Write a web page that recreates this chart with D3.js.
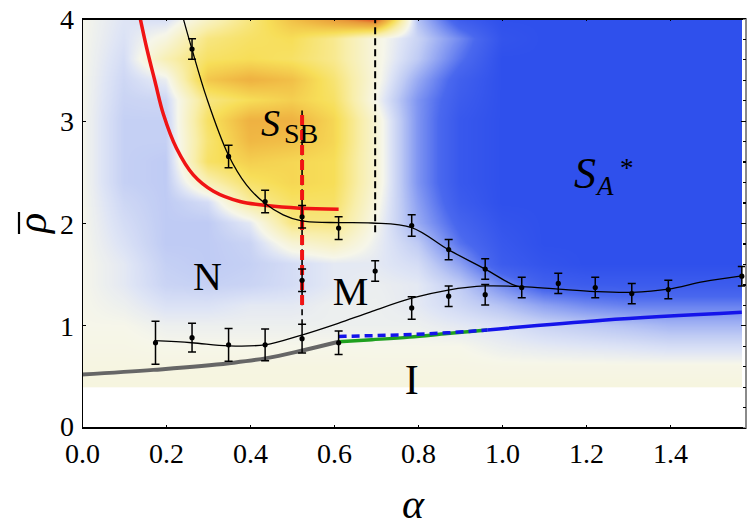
<!DOCTYPE html>
<html>
<head>
<meta charset="utf-8">
<script src="https://cdn.jsdelivr.net/npm/d3@7"></script>
<style>
  body { margin: 0; background: #fff; }
  text { font-family: "Liberation Serif", "Times New Roman", serif; }
  .axis path, .axis line { shape-rendering: crispEdges; }
</style>
</head>
<body>
<div id="phase-diagram"></div>
<script>
"use strict";

const width = 747,
      height = 529;

// ---- data ----

const alphaTicks = [0, 0.2, 0.4, 0.6, 0.8, 1.0, 1.2, 1.4];
const rhoTicks = [0, 1, 2, 3, 4];
const rhoMinorTicks = [0.2, 0.4, 0.6, 0.8, 1.2, 1.4, 1.6, 1.8, 2.2, 2.4, 2.6, 2.8, 3.2, 3.4, 3.6, 3.8];

// density map behind the diagram (negative = blue, positive = yellow/red)
const gridAlpha = [0, 0.1, 0.2, 0.3, 0.4, 0.5, 0.6, 0.7, 0.8, 0.9, 1.0, 1.1, 1.2, 1.3, 1.4, 1.5, 1.6];
const gridRho = [4.0, 3.8, 3.6, 3.4, 3.2, 3.0, 2.8, 2.6, 2.4, 2.2, 2.0, 1.8, 1.6, 1.4, 1.2, 1.0, 0.8, 0.6, 0.4];
const gridValues = [
  [0.00,-0.10,-0.15, 0.15, 0.45, 0.80, 1.10, 1.45,-0.30,-0.85,-1.00,-1.00,-1.00,-1.00,-1.00,-1.00,-1.00],
  [0.00,-0.12, 0.05, 0.45, 0.55, 0.60, 0.40, 0.05,-0.20,-0.55,-0.95,-1.00,-1.00,-1.00,-1.00,-1.00,-1.00],
  [0.00,-0.15, 0.25, 0.55, 0.60, 0.55, 0.40, 0.05,-0.25,-0.65,-1.00,-1.00,-1.00,-1.00,-1.00,-1.00,-1.00],
  [0.00,-0.18,-0.05, 0.75, 0.90, 0.80, 0.50, 0.05,-0.40,-0.80,-1.00,-1.00,-1.00,-1.00,-1.00,-1.00,-1.00],
  [0.00,-0.20,-0.18, 0.45, 0.60, 0.70, 0.55, 0.00,-0.50,-0.85,-1.00,-1.00,-1.00,-1.00,-1.00,-1.00,-1.00],
  [0.00,-0.22,-0.22, 0.55, 0.90, 0.90, 0.65, 0.10,-0.50,-0.90,-1.00,-1.00,-1.00,-1.00,-1.00,-1.00,-1.00],
  [0.00,-0.22,-0.22, 0.50, 0.85, 0.80, 0.65, 0.10,-0.50,-0.90,-1.00,-1.00,-1.00,-1.00,-1.00,-1.00,-1.00],
  [0.00,-0.22,-0.25, 0.55, 0.70, 0.65, 0.60, 0.10,-0.50,-0.90,-1.00,-1.00,-1.00,-1.00,-1.00,-1.00,-1.00],
  [0.00,-0.22,-0.25, 0.25, 0.55, 0.65, 0.60, 0.10,-0.50,-0.90,-1.00,-1.00,-1.00,-1.00,-1.00,-1.00,-1.00],
  [0.00,-0.18,-0.25,-0.15, 0.35, 0.55, 0.55, 0.05,-0.45,-0.85,-1.00,-1.00,-1.00,-1.00,-1.00,-1.00,-1.00],
  [0.00,-0.15,-0.25,-0.25,-0.08, 0.45, 0.45, 0.00,-0.40,-0.75,-0.95,-1.00,-1.00,-1.00,-1.00,-1.00,-1.00],
  [0.00,-0.12,-0.25,-0.25,-0.20, 0.10, 0.20,-0.05,-0.25,-0.65,-0.90,-1.00,-1.00,-1.00,-1.00,-1.00,-1.00],
  [0.00,-0.08,-0.22,-0.25,-0.22,-0.15,-0.08,-0.08,-0.15,-0.45,-0.85,-0.95,-1.00,-1.00,-1.00,-1.00,-1.00],
  [0.00,-0.08,-0.20,-0.22,-0.20,-0.15,-0.08,-0.05,-0.08,-0.25,-0.55,-0.80,-0.85,-0.85,-0.85,-0.85,-0.85],
  [0.00,-0.04,-0.12,-0.12,-0.08,-0.08,-0.04,-0.04,-0.08,-0.18,-0.30,-0.45,-0.55,-0.60,-0.60,-0.60,-0.60],
  [0.00, 0.00,-0.04,-0.04,-0.04,-0.04,-0.04,-0.04,-0.04,-0.08,-0.12,-0.20,-0.25,-0.30,-0.35,-0.35,-0.35],
  [0.02, 0.02, 0.00, 0.00, 0.00, 0.00, 0.00, 0.00, 0.00, 0.00,-0.05,-0.08,-0.10,-0.12,-0.15,-0.15,-0.15],
  [0.04, 0.04, 0.04, 0.04, 0.04, 0.04, 0.04, 0.03, 0.03, 0.03, 0.02, 0.02, 0.02, 0.02, 0.02, 0.02, 0.02],
  [0.05, 0.05, 0.05, 0.05, 0.05, 0.05, 0.05, 0.05, 0.05, 0.05, 0.05, 0.05, 0.05, 0.05, 0.05, 0.05, 0.05]
];
const mapAlphaEnd = 1.571;

// measured points [alpha, rho, error]
const upperPoints = [
  [0.262, 3.70, 0.10], [0.349, 2.65, 0.11], [0.436, 2.21, 0.11], [0.524, 2.06, 0.11],
  [0.611, 1.95, 0.11], [0.785, 1.975, 0.105], [0.873, 1.74, 0.10], [0.960, 1.55, 0.10]
];
const lowerPoints = [
  [0.175, 0.83, 0.21], [0.262, 0.88, 0.14], [0.349, 0.81, 0.16], [0.436, 0.81, 0.155],
  [0.524, 0.87, 0.14], [0.611, 0.83, 0.115], [0.785, 1.17, 0.11], [0.873, 1.285, 0.10],
  [0.960, 1.30, 0.10], [1.047, 1.37, 0.10], [1.134, 1.41, 0.10], [1.222, 1.37, 0.10],
  [1.309, 1.31, 0.10], [1.396, 1.35, 0.09], [1.571, 1.48, 0.095]
];
const middlePoints = [[0.524, 1.44, 0.11], [0.698, 1.53, 0.10]];

// fitted boundaries
const upperFit = [
  [0.241, 4.0], [0.261, 3.71], [0.297, 3.22], [0.348, 2.67], [0.392, 2.37], [0.436, 2.19],
  [0.479, 2.08], [0.523, 2.02], [0.59, 2.005], [0.69, 2.0], [0.785, 1.955], [0.872, 1.74],
  [0.96, 1.55], [1.027, 1.395], [1.047, 1.375]
];
const lowerFit = [
  [0.172, 0.85], [0.261, 0.83], [0.348, 0.80], [0.436, 0.81], [0.523, 0.905], [0.61, 1.02],
  [0.686, 1.13], [0.785, 1.265], [0.872, 1.345], [0.96, 1.385], [1.047, 1.378], [1.134, 1.353],
  [1.221, 1.33], [1.309, 1.323], [1.396, 1.353], [1.48, 1.427], [1.571, 1.483]
];
const meanFieldCurve = [
  [0.137, 4.03], [0.154, 3.71], [0.174, 3.38], [0.194, 3.06], [0.225, 2.73], [0.265, 2.47],
  [0.313, 2.31], [0.376, 2.21], [0.44, 2.17], [0.519, 2.145], [0.611, 2.135]
];
const grayLine = [[0, 0.52], [0.17, 0.565], [0.35, 0.63], [0.44, 0.68], [0.52, 0.75], [0.611, 0.84]];
const greenLine = [[0.611, 0.84], [0.69, 0.86], [0.78, 0.885], [0.87, 0.92], [0.965, 0.955]];
const blueDashed = [[0.611, 0.892], [0.70, 0.90], [0.87, 0.927], [0.965, 0.955]];
const blueLine = [[0.965, 0.955], [1.24, 1.05], [1.571, 1.128]];
const ssbBoundary = [[0.524, 1.2], [0.524, 3.1]];
const blackDashedA = [[0.524, 1.0], [0.524, 3.1]];
const blackDashedB = [[0.698, 1.91], [0.698, 4.0]];

// ---- drawing ----

const x = d3.scaleLinear().domain([0, 1.58]).range([82, 745.6]);
const y = d3.scaleLinear().domain([0, 4]).range([427.7, 18.3]);

const svg = d3.select("#phase-diagram")
  .append("svg")
  .attr("width", width)
  .attr("height", height)
  .attr("viewBox", `0 0 ${width} ${height}`);

svg.append("defs").append("clipPath")
  .attr("id", "plot-clip")
  .append("rect")
  .attr("x", x(0)).attr("y", y(4))
  .attr("width", x(1.58) - x(0)).attr("height", y(0) - y(4));

// colour map for the density values
const color = d3.scaleLinear()
  .domain([-1, -0.7, -0.45, -0.25, -0.1, 0, 0.3, 0.6, 0.85, 1.1, 1.5])
  .range(["#2f50ec", "#4a68ee", "#8ca0f2", "#bfcbf4", "#dfe5f5", "#f6f6ea", "#f8eeaa", "#f7de58", "#f0b844", "#e8983a", "#e02a1e"])
  .clamp(true);

function densityImage() {
  const left = x(0), top = y(gridRho[0]);
  const w = Math.ceil(x(mapAlphaEnd) - left),
        h = Math.ceil(y(gridRho[gridRho.length - 1]) - top);
  const col = d3.scaleLinear().domain([gridAlpha[0], gridAlpha[gridAlpha.length - 1]]).range([0, gridAlpha.length - 1]);
  const row = d3.scaleLinear().domain([gridRho[0], gridRho[gridRho.length - 1]]).range([0, gridRho.length - 1]);
  const lut = d3.range(601).map(i => d3.rgb(color(-1 + 2.5 * i / 600)));
  const canvas = document.createElement("canvas");
  canvas.width = w; canvas.height = h;
  const ctx = canvas.getContext("2d");
  const img = ctx.createImageData(w, h);
  for (let j = 0; j < h; j++) {
    const r = Math.max(0, Math.min(gridRho.length - 1.0001, row(y.invert(top + j + 0.5))));
    const r0 = Math.floor(r), fr = r - r0;
    for (let i = 0; i < w; i++) {
      const c = Math.max(0, Math.min(gridAlpha.length - 1.0001, col(x.invert(left + i + 0.5))));
      const c0 = Math.floor(c), fc = c - c0;
      const v = (gridValues[r0][c0] * (1 - fc) + gridValues[r0][c0 + 1] * fc) * (1 - fr) +
                (gridValues[r0 + 1][c0] * (1 - fc) + gridValues[r0 + 1][c0 + 1] * fc) * fr;
      const k = Math.round((v + 1) / 2.5 * 600);
      const rgb = lut[Math.max(0, Math.min(600, k))];
      const p = (j * w + i) * 4;
      img.data[p] = rgb.r; img.data[p + 1] = rgb.g; img.data[p + 2] = rgb.b; img.data[p + 3] = 255;
    }
  }
  ctx.putImageData(img, 0, 0);
  svg.append("image")
    .attr("x", left).attr("y", top)
    .attr("width", w).attr("height", h)
    .attr("preserveAspectRatio", "none")
    .attr("href", canvas.toDataURL());
}
densityImage();

const g = svg.append("g").attr("clip-path", "url(#plot-clip)");

const line = d3.line().x(d => x(d[0])).y(d => y(d[1]));
const smooth = d3.line().x(d => x(d[0])).y(d => y(d[1])).curve(d3.curveMonotoneX);
const smoothV = d3.line().x(d => x(d[0])).y(d => y(d[1])).curve(d3.curveCatmullRom);

// vertical guides
g.append("path").datum(blackDashedA).attr("d", line)
  .attr("fill", "none").attr("stroke", "#000").attr("stroke-width", 1.6).attr("stroke-dasharray", "6,4");
g.append("path").datum(blackDashedB).attr("d", line)
  .attr("fill", "none").attr("stroke", "#000").attr("stroke-width", 2).attr("stroke-dasharray", "7,4");
g.append("path").datum(ssbBoundary).attr("d", line)
  .attr("fill", "none").attr("stroke", "#f01414").attr("stroke-width", 4).attr("stroke-dasharray", "10,5");

// boundary lines
g.append("path").datum(grayLine).attr("d", smooth)
  .attr("fill", "none").attr("stroke", "#666").attr("stroke-width", 4);
g.append("path").datum(greenLine).attr("d", smooth)
  .attr("fill", "none").attr("stroke", "#1ea01e").attr("stroke-width", 3.5);
g.append("path").datum(blueDashed).attr("d", smooth)
  .attr("fill", "none").attr("stroke", "#1414ea").attr("stroke-width", 3.5).attr("stroke-dasharray", "8,5");
g.append("path").datum(blueLine).attr("d", smooth)
  .attr("fill", "none").attr("stroke", "#1414ea").attr("stroke-width", 3.5);
g.append("path").datum(meanFieldCurve).attr("d", smoothV)
  .attr("fill", "none").attr("stroke", "#f01414").attr("stroke-width", 3.5);
g.append("path").datum(upperFit).attr("d", smoothV)
  .attr("fill", "none").attr("stroke", "#000").attr("stroke-width", 1.3);
g.append("path").datum(lowerFit).attr("d", smoothV)
  .attr("fill", "none").attr("stroke", "#000").attr("stroke-width", 1.3);

// error bars and points
const allPoints = upperPoints.concat(lowerPoints, middlePoints);
const bars = g.selectAll("g.err")
  .data(allPoints)
  .join("g")
  .attr("class", "err");
bars.append("line")
  .attr("x1", d => x(d[0])).attr("x2", d => x(d[0]))
  .attr("y1", d => y(d[1] - d[2])).attr("y2", d => y(d[1] + d[2]));
bars.append("line")
  .attr("x1", d => x(d[0]) - 4).attr("x2", d => x(d[0]) + 4)
  .attr("y1", d => y(d[1] + d[2])).attr("y2", d => y(d[1] + d[2]));
bars.append("line")
  .attr("x1", d => x(d[0]) - 4).attr("x2", d => x(d[0]) + 4)
  .attr("y1", d => y(d[1] - d[2])).attr("y2", d => y(d[1] - d[2]));
bars.selectAll("line").attr("stroke", "#000").attr("stroke-width", 1.5);
bars.append("circle")
  .attr("cx", d => x(d[0])).attr("cy", d => y(d[1]))
  .attr("r", 2.6).attr("fill", "#000");

// phase labels
const labels = svg.append("g").attr("fill", "#000");
labels.append("text").attr("x", 207.5).attr("y", 289.5).attr("text-anchor", "middle")
  .attr("font-size", 40).text("N");
labels.append("text").attr("x", 350.5).attr("y", 305).attr("text-anchor", "middle")
  .attr("font-size", 40).text("M");
labels.append("text").attr("x", 411.7).attr("y", 394).attr("text-anchor", "middle")
  .attr("font-size", 42).text("I");

const ssb = labels.append("text").attr("y", 136);
ssb.append("tspan").attr("x", 261).attr("font-size", 38).attr("font-style", "italic").text("S");
ssb.append("tspan").attr("x", 284).attr("y", 143).attr("font-size", 28).text("SB");

const sa = labels.append("text").attr("y", 188);
sa.append("tspan").attr("x", 574).attr("font-size", 44).attr("font-style", "italic").text("S");
sa.append("tspan").attr("x", 597).attr("y", 195).attr("font-size", 27).attr("font-style", "italic").text("A");
sa.append("tspan").attr("x", 620).attr("y", 177).attr("font-size", 27).text("*");

// axes and frame
const bottom = svg.append("g").attr("class", "axis")
  .attr("transform", `translate(0,${y(0)})`)
  .call(d3.axisBottom(x).tickValues(alphaTicks).tickSize(-3).tickFormat(d3.format(".1f")));
bottom.selectAll("text").attr("y", 35).attr("dy", null).attr("font-size", 28)
  .attr("font-family", "Liberation Serif").attr("fill", "#000");

const left = svg.append("g").attr("class", "axis")
  .attr("transform", `translate(${x(0)},0)`)
  .call(d3.axisLeft(y).tickValues(rhoTicks).tickSize(-4).tickFormat(d3.format("d")));
left.selectAll("text").attr("x", -8).attr("dy", 10).attr("font-size", 28)
  .attr("font-family", "Liberation Serif").attr("fill", "#000");
left.selectAll("text").filter(d => d === 0).attr("dy", 8);

const topAxis = svg.append("g").attr("class", "axis")
  .attr("transform", `translate(0,${y(4)})`)
  .call(d3.axisTop(x).tickValues(alphaTicks).tickSize(-3).tickFormat(""));

const right = svg.append("g").attr("class", "axis")
  .attr("transform", `translate(${x(1.58)},0)`)
  .call(d3.axisRight(y).tickValues(rhoTicks.concat(rhoMinorTicks)).tickSize(-3).tickFormat(""));
right.selectAll(".tick line").filter(d => Number.isInteger(d)).attr("x2", -5);

[bottom, left, topAxis].forEach(a => {
  a.select(".domain").attr("stroke", "#000").attr("stroke-width", 1.5);
  a.selectAll(".tick line").attr("stroke", "#000").attr("stroke-width", 1.2);
});
right.select(".domain").attr("stroke", "#8a8a8a").attr("stroke-width", 2);
right.selectAll(".tick line").attr("stroke", "#000").attr("stroke-width", 1.2);

// axis titles: rho with an overbar (bar drawn as a rule above the rotated glyph)
const rhoTitle = svg.append("g").attr("transform", "translate(46,223) rotate(-90)");
rhoTitle.append("text")
  .attr("text-anchor", "middle")
  .attr("font-size", 42).attr("font-style", "italic")
  .text("\u03C1");
rhoTitle.append("line")
  .attr("x1", -11).attr("x2", 11)
  .attr("y1", -27).attr("y2", -27)
  .attr("stroke", "#000").attr("stroke-width", 2.2);

svg.append("text")
  .attr("x", 413).attr("y", 518)
  .attr("text-anchor", "middle")
  .attr("font-size", 42).attr("font-style", "italic")
  .text("\u03B1");
</script>
</body>
</html>
